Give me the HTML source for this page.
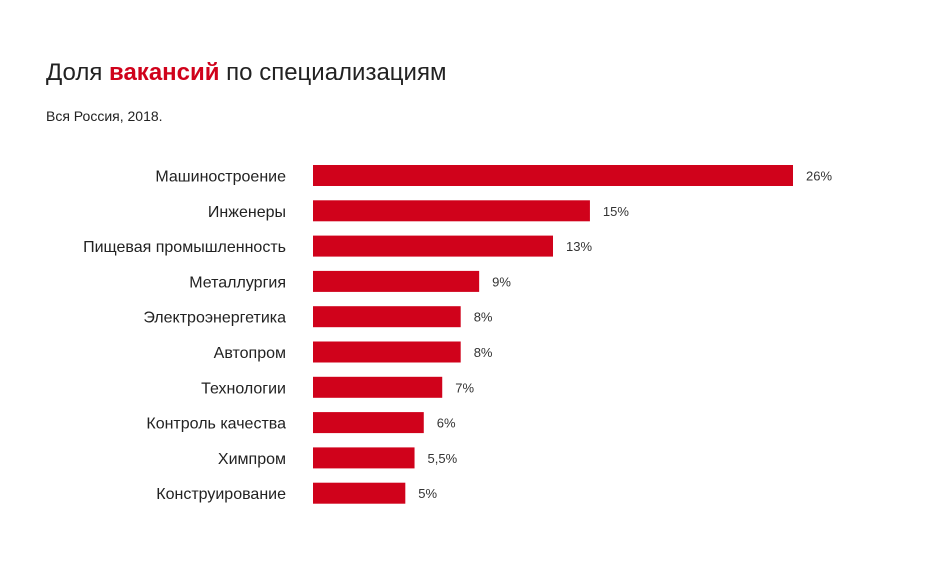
<!DOCTYPE html>
<html><head><meta charset="utf-8"><style>
body{margin:0;background:#fff;width:941px;height:562px;overflow:hidden;font-family:"Liberation Sans","DejaVu Sans",sans-serif;}
svg{display:block}
</style></head><body>
<svg id="chart" width="941" height="562">
<text x="46" y="80" font-size="24" fill="#222">Доля <tspan fill="#d0021b" font-weight="bold">вакансий</tspan> по специализациям</text>
<text x="46" y="121" font-size="14" fill="#222">Вся Россия, 2018.</text>
<g id="bars"></g>
</svg>
<script>
const categories=["Машиностроение","Инженеры","Пищевая промышленность","Металлургия","Электроэнергетика","Автопром","Технологии","Контроль качества","Химпром","Конструирование"];
const values=[26,15,13,9,8,8,7,6,5.5,5];
const valueLabels=["26%","15%","13%","9%","8%","8%","7%","6%","5,5%","5%"];
const x0=313, pxPer=480/26, y0=165, step=35.3, bh=21;
const xScale=v=>x0+v*pxPer;
const yScale=i=>y0+i*step;
const g=document.getElementById('bars');
const NS="http://www.w3.org/2000/svg";
categories.forEach((c,i)=>{
  const y=yScale(i);
  const lab=document.createElementNS(NS,'text');
  
  
  lab.setAttribute('x',286);lab.setAttribute('y',y+bh/2+6);
  lab.setAttribute('text-anchor','end');lab.setAttribute('font-size','16');lab.setAttribute('fill','#222');
  lab.textContent=c;g.appendChild(lab);
  const r=document.createElementNS(NS,'rect');
  
  
  r.setAttribute('x',x0);r.setAttribute('y',y);r.setAttribute('width',xScale(values[i])-x0);r.setAttribute('height',bh);r.setAttribute('fill','#d0021b');
  g.appendChild(r);
  const v=document.createElementNS(NS,'text');
  
  
  v.setAttribute('x',xScale(values[i])+13);v.setAttribute('y',y+bh/2+5);
  v.setAttribute('font-size','13');v.setAttribute('fill','#333');
  v.textContent=valueLabels[i];g.appendChild(v);
});
</script>
</body></html>
